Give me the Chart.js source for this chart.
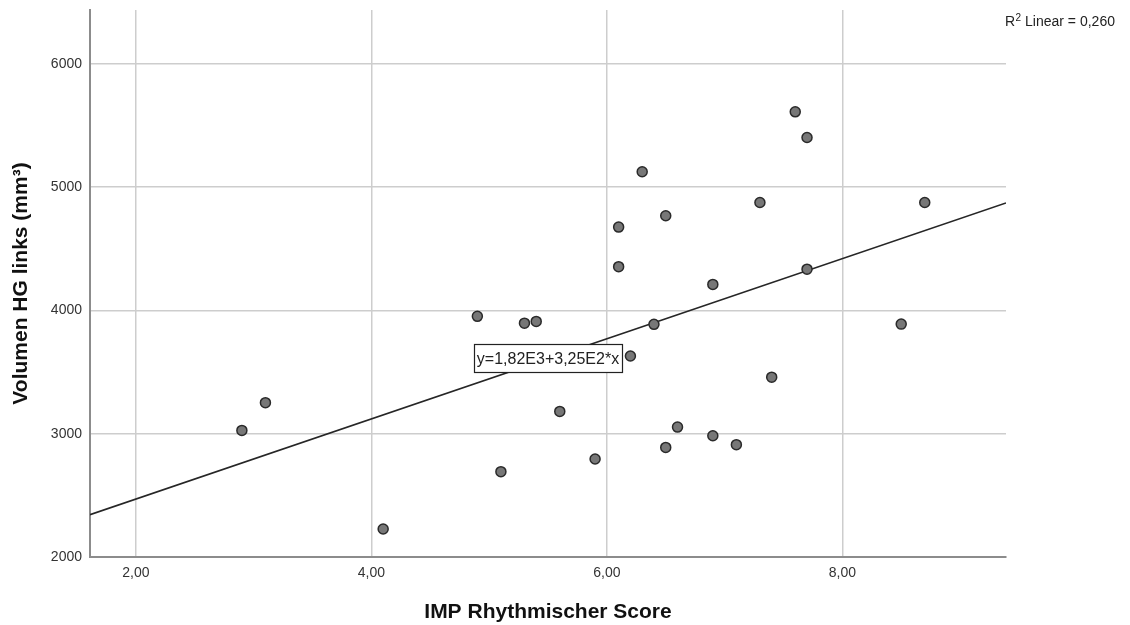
<!DOCTYPE html>
<html>
<head>
<meta charset="utf-8">
<script src="https://cdn.jsdelivr.net/npm/chart.js@4.4.1/dist/chart.umd.min.js"></script>
<style>
  html, body { margin: 0; padding: 0; background: #fff; }
  #wrap { width: 1130px; height: 625px; position: relative; }
</style>
</head>
<body>
<div id="wrap"><canvas id="scatter"></canvas></div>
<script>
// IMP score vs. left hippocampus volume
const impScore = [2.9, 3.1, 4.1, 4.9, 5.3, 5.4, 5.1, 5.6, 5.9, 6.2, 6.4, 6.5, 6.6, 6.9, 7.1, 7.4, 8.5,
                  7.6, 6.3, 7.3, 6.1, 6.5, 6.1, 6.9, 7.7, 8.7, 7.7];
const volumeHG = [3027, 3252, 2227, 3952, 3897, 3911, 2692, 3181, 2795, 3630, 3887, 2889, 3054, 2984, 2911, 3459, 3889,
                  5611, 5125, 4876, 4676, 4768, 4355, 4211, 5403, 4876, 4335];

const xTicks = [2, 4, 6, 8];
const yTicks = [2000, 3000, 4000, 5000, 6000];
const xRange = [1.61, 9.39];
const yRange = [2000, 6437];

// fit line from SPSS output
const intercept = 1820;
const slope = 325;
const fitLabel = 'y=1,82E3+3,25E2*x';
const fitLabelAt = [5.5, 3611];
const r2Text = ' Linear = 0,260';

const points = impScore.map((x, i) => ({ x: x, y: volumeHG[i] }));
const fitLine = xRange.map(x => ({ x: x, y: intercept + slope * x }));

const FONT = '"Liberation Sans", Arial, sans-serif';

const annotations = {
    id: 'annotations',
    afterDatasetsDraw(chart) {
        const ctx = chart.ctx;
        const xs = chart.scales.x, ys = chart.scales.y;
        ctx.save();
        // fit equation box
        ctx.font = '16px ' + FONT;
        const tw = ctx.measureText(fitLabel).width;
        const cx = xs.getPixelForValue(fitLabelAt[0]);
        const cy = ys.getPixelForValue(fitLabelAt[1]);
        const bw = Math.round(tw + 6), bh = 28;
        const bx = Math.round(cx - bw / 2), by = Math.round(cy - bh / 2);
        ctx.fillStyle = '#fff';
        ctx.fillRect(bx, by, bw, bh);
        ctx.strokeStyle = '#222';
        ctx.lineWidth = 1.2;
        ctx.strokeRect(bx + 0.5, by + 0.5, bw, bh);
        ctx.fillStyle = '#222';
        ctx.textAlign = 'center';
        ctx.textBaseline = 'middle';
        ctx.fillText(fitLabel, cx, cy + 1.5);

        // R squared note top right
        ctx.textAlign = 'left';
        ctx.textBaseline = 'alphabetic';
        ctx.fillStyle = '#222';
        ctx.font = '14px ' + FONT;
        let tx = xs.right - 1;
        ctx.fillText('R', tx, 26);
        tx += ctx.measureText('R').width + 0.5;
        ctx.font = '10px ' + FONT;
        ctx.fillText('2', tx, 21);
        tx += ctx.measureText('2').width;
        ctx.font = '14px ' + FONT;
        ctx.fillText(r2Text, tx, 26);
        ctx.restore();
    }
};

new Chart(document.getElementById('scatter'), {
    type: 'scatter',
    data: {
        datasets: [
            {
                type: 'line',
                data: fitLine,
                borderColor: '#262626',
                borderWidth: 1.7,
                pointRadius: 0,
                fill: false,
                order: 2
            },
            {
                data: points,
                backgroundColor: '#777777',
                borderColor: '#2a2a2a',
                borderWidth: 1.5,
                pointRadius: 5,
                order: 1
            }
        ]
    },
    options: {
        responsive: true,
        maintainAspectRatio: false,
        animation: false,
        layout: { padding: { top: 10, right: 124, left: 0, bottom: 0 } },
        plugins: { legend: { display: false }, tooltip: { enabled: false } },
        scales: {
            x: {
                type: 'linear',
                min: xRange[0],
                max: xRange[1],
                afterBuildTicks: s => { s.ticks = xTicks.map(v => ({ value: v })); },
                afterFit: s => { s.height = 68; s.paddingLeft = 0; s.paddingRight = 0; },
                ticks: {
                    padding: 8,
                    color: '#333',
                    font: { size: 14, family: FONT },
                    callback: v => v.toFixed(2).replace('.', ',')
                },
                grid: { color: '#cdcdcd', lineWidth: 1.5, drawTicks: false },
                border: { color: '#8c8c8c', width: 2 },
                title: {
                    display: true,
                    text: 'IMP Rhythmischer Score',
                    color: '#111',
                    font: { size: 21, weight: 'bold', family: FONT },
                    padding: { top: 0, bottom: 0 }
                }
            },
            y: {
                type: 'linear',
                min: yRange[0],
                max: yRange[1],
                afterBuildTicks: s => { s.ticks = yTicks.map(v => ({ value: v })); },
                afterFit: s => { s.width = 90; s.paddingTop = 0; s.paddingBottom = 0; },
                ticks: {
                    padding: 8,
                    color: '#333',
                    font: { size: 14, family: FONT },
                    callback: v => String(v)
                },
                grid: { color: '#cdcdcd', lineWidth: 1.5, drawTicks: false },
                border: { color: '#8c8c8c', width: 2 },
                title: {
                    display: true,
                    text: 'Volumen HG links (mm³)',
                    color: '#111',
                    font: { size: 21, weight: 'bold', family: FONT },
                    padding: { top: 9, bottom: 0 }
                }
            }
        }
    },
    plugins: [annotations]
});
</script>
</body>
</html>
